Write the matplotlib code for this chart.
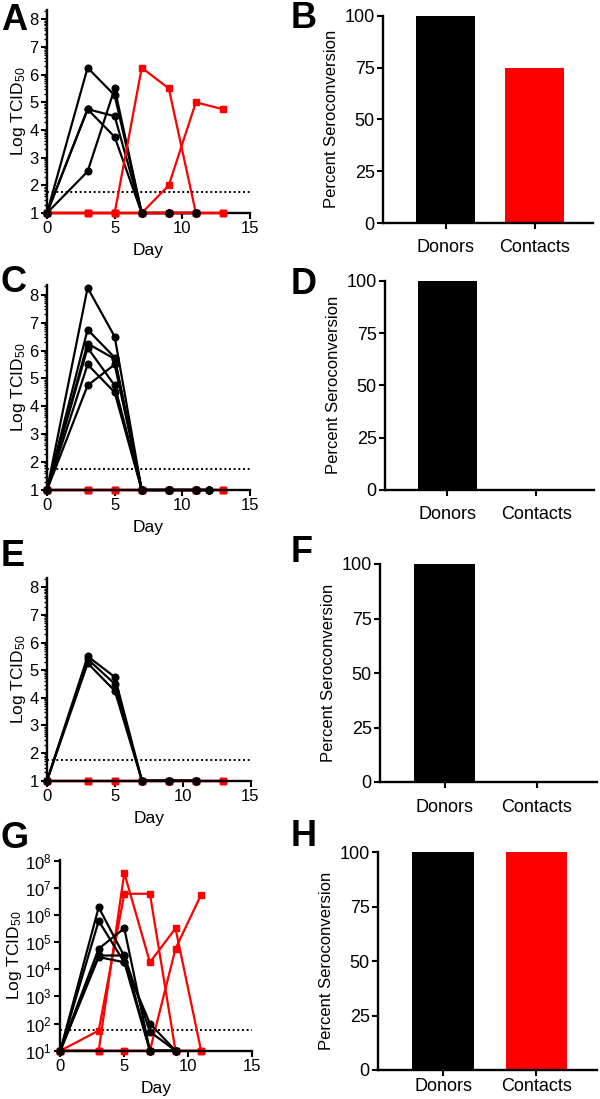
import numpy as np
import matplotlib.pyplot as plt
from matplotlib.ticker import FixedLocator, NullFormatter

plt.rcParams['font.family'] = ['Liberation Sans', 'DejaVu Sans']
plt.rcParams['mathtext.fontset'] = 'custom'
plt.rcParams['mathtext.rm'] = 'Liberation Sans'
plt.rcParams['mathtext.it'] = 'Liberation Sans:italic'
plt.rcParams['mathtext.bf'] = 'Liberation Sans:bold'

# ---- data ----
# panel A
a_donor_days = [0, 3, 5, 7, 9, 11]
a_donors = [
    [1, 6.25, 5.25, 1, 1, 1],
    [1, 4.75, 4.5, 1, 1, 1],
    [1, 4.75, 3.75, 1, 1, 1],
    [1, 2.5, 5.5, 1, 1, 1],
]
a_contact_days = [0, 3, 5, 7, 9, 11, 13]
a_contacts = [
    [1, 1, 1, 6.25, 5.5, 1, 1],
    [1, 1, 1, 1, 2, 5, 4.75],
    [1, 1, 1, 1, 1, 1, 1],
    [1, 1, 1, 1, 1, 1, 1],
]
# panel C
c_donor_days = [0, 3, 5, 7, 9, 11, 12]
c_donors = [
    [1, 8.25, 6.5, 1, 1, 1, 1],
    [1, 6.75, 5.75, 1, 1, 1, 1],
    [1, 6.25, 5.7, 1, 1, 1, 1],
    [1, 6.1, 4.75, 1, 1, 1, 1],
    [1, 5.5, 4.5, 1, 1, 1, 1],
    [1, 4.75, 5.5, 1, 1, 1, 1],
]
c_contact_days = [0, 3, 5, 7, 9, 11, 13]
c_contacts = [
    [1, 1, 1, 1, 1, 1, 1],
    [1, 1, 1, 1, 1, 1, 1],
    [1, 1, 1, 1, 1, 1, 1],
    [1, 1, 1, 1, 1, 1, 1],
]
# panel E
e_donor_days = [0, 3, 5, 7, 9, 11]
e_donors = [
    [1, 5.5, 4.75, 1, 1, 1],
    [1, 5.4, 4.5, 1, 1, 1],
    [1, 5.25, 4.25, 1, 1, 1],
]
e_contact_days = [0, 3, 5, 7, 9, 11, 13]
e_contacts = [
    [1, 1, 1, 1, 1, 1, 1],
    [1, 1, 1, 1, 1, 1, 1],
    [1, 1, 1, 1, 1, 1, 1],
]
# panel G (titers, log axis)
g_donor_days = [0, 3, 5, 7, 9]
g_donors = [
    [10, 1.9e6, 3e4, 10, 10],
    [10, 6e5, 1.8e4, 100, 10],
    [10, 5.7e4, 3.2e5, 10, 10],
    [10, 3.2e4, 3.2e4, 50, 10],
    [10, 2.8e4, 1.8e4, 10, 10],
]
g_contact_days = [0, 3, 5, 7, 9, 11]
g_contacts = [
    [10, 55, 6e6, 6e6, 10, 10],
    [10, 10, 3.5e7, 1.8e4, 3.2e5, 10],
    [10, 10, 10, 10, 5.7e4, 5.5e6],
    [10, 10, 10, 10, 10, 10],
]
detect_limit = 1.75

groups = ['Donors', 'Contacts']
sero_b = [100, 75]
sero_d = [100, 0]
sero_f = [100, 0]
sero_h = [100, 100]

RED = '#ff0000'
W, H = 600, 1099
fig = plt.figure(figsize=(W / 100, H / 100), dpi=100)


def px_axes(left, top, right, bottom):
    return fig.add_axes([left / W, 1 - bottom / H, (right - left) / W, (bottom - top) / H])


def style_axes(ax):
    for s in ['top', 'right']:
        ax.spines[s].set_visible(False)
    for s in ['left', 'bottom']:
        ax.spines[s].set_linewidth(1.7)
    ax.tick_params(which='major', direction='out', length=4, width=1.5, pad=2)
    ax.tick_params(which='minor', direction='out', length=2.2, width=1.0)


def titer_panel(box, donor_days, donors, contact_days, contacts, red_z, log=False):
    ax = px_axes(*box)
    style_axes(ax)
    for row in donors:
        ax.plot(donor_days, row, color='black', lw=1.6, zorder=3, clip_on=False)
        ax.plot(donor_days, row, ls='none', marker='o', ms=4.8, color='black',
                zorder=6, clip_on=False)
    for row in contacts:
        ax.plot(contact_days, row, color=RED, lw=1.6, marker='s', ms=4.8,
                zorder=red_z, clip_on=False)
    ax.set_xlim(0, 15)
    ax.set_xticks([0, 5, 10, 15])
    if log:
        ax.set_yscale('log')
        ax.set_ylim(10, 1.05e8)
        ax.set_yticks([10 ** k for k in range(1, 9)])
        ax.set_yticklabels([r'$10^{%d}$' % k for k in range(1, 9)])
        ax.axhline(10 ** detect_limit, color='black', lw=1.4, dashes=(1, 1.4), zorder=2)
    else:
        ax.set_ylim(1, 8.35)
        ax.set_yticks(range(1, 9))
        minors = [k + np.log10(m) for k in range(1, 8) for m in range(2, 10)]
        minors += [8 + np.log10(2)]
        ax.yaxis.set_minor_locator(FixedLocator(minors))
        ax.yaxis.set_minor_formatter(NullFormatter())
        ax.axhline(detect_limit, color='black', lw=1.4, dashes=(1, 1.4), zorder=2)
    ax.tick_params(labelsize=12)
    ax.set_xlabel('Day', fontsize=12.5, labelpad=5)
    ax.set_ylabel('Log TCID$_{50}$', fontsize=12.5, labelpad=1)
    return ax


def bar_panel(box, values, xpad):
    ax = px_axes(*box)
    style_axes(ax)
    x = np.arange(len(groups))
    ax.bar(x, values, width=0.66, color=['black', RED], linewidth=0)
    ax.set_xlim(-0.7, 1.65)
    ax.set_ylim(0, 100)
    ax.set_yticks([0, 25, 50, 75, 100])
    ax.set_xticks(x)
    ax.set_xticklabels(groups)
    ax.tick_params(labelsize=13)
    ax.tick_params(axis='x', pad=xpad)
    ax.set_ylabel('Percent Seroconversion', fontsize=12, labelpad=4)
    return ax


titer_panel((47, 9.6, 250, 213), a_donor_days, a_donors, a_contact_days, a_contacts, red_z=4)
titer_panel((47, 285, 250, 490), c_donor_days, c_donors, c_contact_days, c_contacts, red_z=2.5)
titer_panel((47, 577.6, 250.5, 780.7), e_donor_days, e_donors, e_contact_days, e_contacts, red_z=2.5)
titer_panel((60.3, 860, 252.3, 1050.7), g_donor_days, g_donors, g_contact_days, g_contacts,
            red_z=2.5, log=True)

bar_panel((383, 15.7, 593, 223), sero_b, 7.5)
bar_panel((385, 280.7, 594, 490), sero_d, 7.5)
bar_panel((380, 564, 597, 782), sero_f, 8)
bar_panel((378, 852.3, 597, 1070), sero_h, 1.5)

# panel letters
letters = [('A', 1, 3), ('B', 291, 1), ('C', 1, 265), ('D', 291, 267),
           ('E', 1, 539), ('F', 291, 535), ('G', 1, 821), ('H', 291, 819)]
for lab, xp, yp in letters:
    fig.text(xp / W, 1 - yp / H, lab, fontsize=26, fontweight='bold', va='top', ha='left')

fig.savefig('out.png', dpi=100)
